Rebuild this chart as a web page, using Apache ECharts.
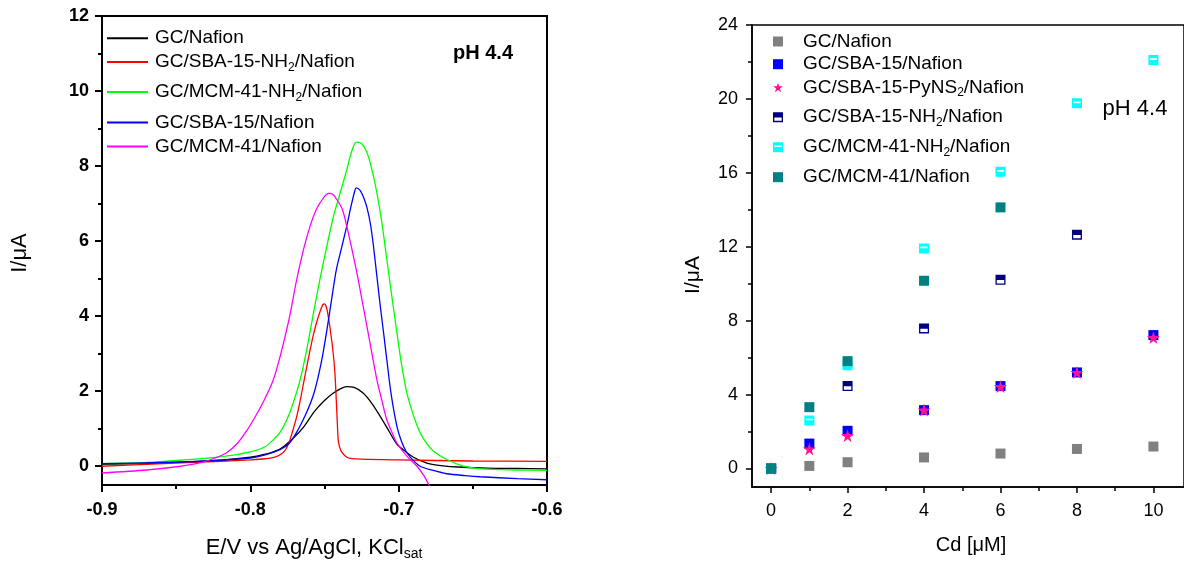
<!DOCTYPE html>
<html><head><meta charset="utf-8">
<script src="https://cdn.jsdelivr.net/npm/echarts/dist/echarts.min.js"></script>
<style>html,body{margin:0;padding:0;background:#fff}#c{width:1184px;height:572px}</style>
</head><body><div id="c"></div>
<script>
// ---------- DATA: left panel (DPV curves, E in V, I in uA) ----------
const curveGCNafion = [[-0.9,0.05],[-0.87,0.08],[-0.84,0.12],[-0.82,0.16],[-0.80,0.24],[-0.79,0.32],[-0.78,0.46],[-0.771,0.75],[-0.764,1.05],[-0.757,1.45],[-0.75,1.75],[-0.744,1.95],[-0.739,2.07],[-0.735,2.12],[-0.73,2.1],[-0.724,1.95],[-0.718,1.67],[-0.712,1.3],[-0.706,0.9],[-0.701,0.58],[-0.695,0.38],[-0.69,0.24],[-0.684,0.13],[-0.679,0.06],[-0.67,0.01],[-0.66,-0.02],[-0.64,-0.05],[-0.62,-0.06],[-0.6,-0.07]];
const curveSBA15NH2 = [[-0.9,0.0],[-0.87,0.05],[-0.847,0.09],[-0.82,0.13],[-0.80,0.17],[-0.79,0.2],[-0.783,0.25],[-0.778,0.36],[-0.7754,0.5],[-0.7732,0.71],[-0.771,1.0],[-0.7687,1.33],[-0.7664,1.75],[-0.7642,2.2],[-0.762,2.65],[-0.7597,3.1],[-0.7575,3.5],[-0.7552,3.85],[-0.753,4.12],[-0.7512,4.3],[-0.75,4.33],[-0.7488,4.25],[-0.7475,4.0],[-0.746,3.6],[-0.7445,3.15],[-0.743,2.5],[-0.7421,1.8],[-0.7413,1.1],[-0.7406,0.65],[-0.739,0.42],[-0.7372,0.32],[-0.7349,0.24],[-0.7327,0.21],[-0.725,0.19],[-0.70,0.17],[-0.65,0.14],[-0.6,0.13]];
const curveMCM41NH2 = [[-0.9,0.07],[-0.87,0.1],[-0.847,0.16],[-0.82,0.25],[-0.80,0.38],[-0.79,0.52],[-0.7844,0.71],[-0.78,0.9],[-0.7754,1.24],[-0.771,1.7],[-0.7664,2.31],[-0.762,3.1],[-0.7574,4.09],[-0.753,5.0],[-0.7484,5.87],[-0.744,6.65],[-0.7394,7.29],[-0.735,7.9],[-0.732,8.35],[-0.7286,8.64],[-0.725,8.6],[-0.7214,8.36],[-0.718,7.9],[-0.7147,7.29],[-0.711,6.4],[-0.708,5.51],[-0.7045,4.5],[-0.7012,3.56],[-0.698,2.7],[-0.6945,1.96],[-0.69,1.35],[-0.6855,0.89],[-0.681,0.6],[-0.6765,0.4],[-0.6675,0.18],[-0.6562,0.0],[-0.645,-0.07],[-0.62,-0.1],[-0.6,-0.11]];
const curveSBA15 = [[-0.9,0.07],[-0.86,0.1],[-0.83,0.14],[-0.80,0.22],[-0.79,0.3],[-0.78,0.44],[-0.774,0.6],[-0.769,0.89],[-0.763,1.35],[-0.757,1.96],[-0.752,2.8],[-0.748,3.73],[-0.745,4.5],[-0.742,5.24],[-0.738,5.9],[-0.735,6.4],[-0.732,6.95],[-0.7295,7.35],[-0.7286,7.42],[-0.726,7.35],[-0.7235,7.15],[-0.7214,6.9],[-0.719,6.45],[-0.717,5.87],[-0.7145,5.0],[-0.7124,4.27],[-0.710,3.5],[-0.708,2.84],[-0.705,1.9],[-0.7012,1.07],[-0.698,0.65],[-0.6945,0.36],[-0.69,0.15],[-0.6855,0.0],[-0.678,-0.1],[-0.6675,-0.2],[-0.655,-0.25],[-0.645,-0.28],[-0.62,-0.33],[-0.6,-0.36]];
const curveMCM41 = [[-0.9,-0.18],[-0.87,-0.1],[-0.847,0.0],[-0.835,0.08],[-0.825,0.2],[-0.816,0.36],[-0.8085,0.62],[-0.8024,0.95],[-0.797,1.3],[-0.7912,1.72],[-0.785,2.25],[-0.7799,2.93],[-0.774,3.9],[-0.7687,4.98],[-0.764,5.8],[-0.7597,6.4],[-0.756,6.8],[-0.753,7.02],[-0.7473,7.27],[-0.7445,7.25],[-0.7417,7.11],[-0.738,6.85],[-0.735,6.4],[-0.7316,5.8],[-0.7282,5.16],[-0.7248,4.45],[-0.7214,3.73],[-0.718,3.0],[-0.7147,2.31],[-0.711,1.7],[-0.708,1.24],[-0.7045,0.9],[-0.7012,0.62],[-0.6945,0.27],[-0.6877,0.0],[-0.683,-0.25],[-0.6794,-0.51],[-0.676,-0.7]];
const leftNames = ['GC/Nafion','GC/SBA-15-NH2/Nafion','GC/MCM-41-NH2/Nafion','GC/SBA-15/Nafion','GC/MCM-41/Nafion'];
const E_TICKS = [-0.9,-0.8,-0.7,-0.6];
const E_MINOR = [-0.85,-0.75,-0.65];
const IL_TICKS = [0,2,4,6,8,10,12];
const IL_MINOR = [1,3,5,7,9,11];

// ---------- DATA: right panel (calibration, Cd in uM, I in uA) ----------
const cdAll = [0,1,2,4,6,8,10];
const I_GC = [0,0.14,0.34,0.6,0.81,1.06,1.19];
const I_SBA15 = [0,1.35,2.04,3.16,4.46,5.2,7.22];
const I_PyNS2 = [0,1.06,1.78,3.16,4.44,5.2,7.09];
const cdSBA15NH2 = [0,2,4,6,8];
const I_SBA15NH2 = [0,4.46,7.58,10.21,12.65];
const I_MCM41NH2 = [0,2.6,5.59,11.91,16.06,19.76,22.1];
const cdMCM41 = [0,1,2,4,6];
const I_MCM41 = [0,3.32,5.81,10.16,14.13];
const rightNames = ['GC/Nafion','GC/SBA-15/Nafion','GC/SBA-15-PyNS2/Nafion','GC/SBA-15-NH2/Nafion','GC/MCM-41-NH2/Nafion','GC/MCM-41/Nafion'];
const CD_TICKS = [0,2,4,6,8,10];
const CD_MINOR = [1,3,5,7,9];
const IR_TICKS = [0,4,8,12,16,20,24];
const IR_MINOR = [2,6,10,14,18,22];

// ---------- styles ----------
const FONT = 'Arial, "Liberation Sans", Helvetica, sans-serif';
const RP = 'R:'; // internal prefix so right-panel series names stay unique
const leftColors = ['#000000','#ff0000','#00ff00','#0000ff','#ff00ff'];
const STAR = 'path://M50,0L61.2,34.5L97.6,34.5L68.2,55.9L79.4,90.5L50,69.1L20.6,90.5L31.8,55.9L2.4,34.5L38.8,34.5Z';
const HALF_NAVY = 'path://M0,0H10V10H0Z M1.3,5.2V8.6H8.7V5.2Z';
const HALF_CYAN = 'path://M0,0H10V10H0Z M1.5,3.2V4.9H8.5V3.2Z';
const rightStyles = [
  {symbol:'rect', color:'#808080', size:10},
  {symbol:'rect', color:'#0000ff', size:10},
  {symbol:STAR, color:'#ff1493', size:13},
  {symbol:HALF_NAVY, color:'#000080', size:10},
  {symbol:HALF_CYAN, color:'#00ffff', size:10},
  {symbol:'rect', color:'#008080', size:10}
];
const rightData = [
  cdAll.map((x,i)=>[x,I_GC[i]]),
  cdAll.map((x,i)=>[x,I_SBA15[i]]),
  cdAll.map((x,i)=>[x,I_PyNS2[i]]),
  cdSBA15NH2.map((x,i)=>[x,I_SBA15NH2[i]]),
  cdAll.map((x,i)=>[x,I_MCM41NH2[i]]),
  cdMCM41.map((x,i)=>[x,I_MCM41[i]])
];
const leftData = [curveGCNafion, curveSBA15NH2, curveMCM41NH2, curveSBA15, curveMCM41];

function richName(rawName){
  const name = rawName.indexOf(RP) === 0 ? rawName.slice(RP.length) : rawName;
  const m = name.match(/^(.*?(?:NH|PyNS))2(.*)$/);
  if (m) return '{f|' + m[1] + '}{s|2}{n|' + m[2] + '}';
  return '{f|' + name + '}';
}
function richStyles(fs, padLeft){
  return {
    f:{fontSize:fs, fontFamily:FONT, color:'#000', padding:[0,0,0,padLeft]},
    n:{fontSize:fs, fontFamily:FONT, color:'#000'},
    s:{fontSize:Math.round(fs*0.62), fontFamily:FONT, color:'#000', padding:[11,0,0,0]}
  };
}

const leftLegendY = [35.7, 59.5, 89.5, 120, 144];
const rightLegendY = [37, 59.7, 83, 112.7, 142.7, 172.7];
const legends = [];
leftNames.forEach((n,i)=>legends.push({
  data:[n], left:106, top:leftLegendY[i]-7, itemWidth:41, itemHeight:14, padding:0,
  selectedMode:false, formatter:richName,
  itemStyle:{opacity:0, borderWidth:0},
  textStyle:{color:'#000', fontSize:19, fontFamily:FONT, rich:richStyles(19,2)}
}));
rightNames.forEach((n,i)=>legends.push({
  data:[RP+n], left:773, top:rightLegendY[i]-5, itemWidth:10, itemHeight:10, padding:0,
  selectedMode:false, formatter:richName,
  textStyle:{color:'#000', fontSize:19, fontFamily:FONT, rich:richStyles(19,15)}
}));

function mainAxis(grid, min, max, ticks, pos, bold, fs, margin, lw, tlen, fmt){
  return {type:'value', gridIndex:grid, min:min, max:max, position:pos,
    axisLine:{show:true, onZero:false, lineStyle:{color:'#000', width:lw}},
    axisTick:{show:true, length:tlen, customValues:ticks, lineStyle:{color:'#000', width:lw}},
    axisLabel:{show:true, customValues:ticks, color:'#000', fontSize:fs, fontFamily:FONT,
      fontWeight:bold?'bold':'normal', margin:margin, formatter:fmt||(v=>String(v))},
    splitLine:{show:false}, minorTick:{show:false}};
}
function minorAxis(grid, min, max, ticks, pos, lw, tlen){
  return {type:'value', gridIndex:grid, min:min, max:max, position:pos,
    axisLine:{show:false, onZero:false}, axisLabel:{show:false},
    axisTick:{show:true, length:tlen, customValues:ticks, lineStyle:{color:'#000', width:lw}},
    splitLine:{show:false}};
}

const series = [];
leftNames.forEach((n,i)=>series.push({
  name:n, type:'line', xAxisIndex:0, yAxisIndex:0, data:leftData[i],
  symbol:'none', showSymbol:false, smooth:0.3, clip:true,
  lineStyle:{color:leftColors[i], width:1.3}, itemStyle:{color:leftColors[i]}
}));
rightNames.forEach((n,i)=>series.push({
  name:RP+n, type:'scatter', xAxisIndex:2, yAxisIndex:2, data:rightData[i],
  symbol:rightStyles[i].symbol, symbolSize:rightStyles[i].size,
  itemStyle:{color:rightStyles[i].color, opacity:1}
}));

const chart = echarts.init(document.getElementById('c'), null, {renderer:'canvas'});
chart.setOption({
  animation:false,
  backgroundColor:'#fff',
  grid:[
    {left:102, top:16, width:445, height:469, show:true, borderColor:'#000', borderWidth:2, backgroundColor:'rgba(0,0,0,0)', containLabel:false, outerBoundsMode:'none'},
    {left:752, top:25, width:432, height:462, show:true, borderColor:'#000', borderWidth:1.5, backgroundColor:'rgba(0,0,0,0)', containLabel:false, outerBoundsMode:'none'}
  ],
  xAxis:[
    mainAxis(0, -0.9, -0.6, E_TICKS, 'bottom', true, 18, 16, 2, 7, v=>v.toFixed(1)),
    minorAxis(0, -0.9, -0.6, E_MINOR, 'bottom', 2, 4),
    mainAxis(1, -0.5, 10.8, CD_TICKS, 'bottom', false, 18, 15, 1.5, 6),
    minorAxis(1, -0.5, 10.8, CD_MINOR, 'bottom', 1.5, 4)
  ],
  yAxis:[
    mainAxis(0, -0.5, 12, IL_TICKS, 'left', true, 18, 13, 2, 7),
    mainAxis(0, -0.5, 12, IL_MINOR, 'left', true, 18, 13, 2, 4, ()=>''),
    mainAxis(1, -1, 24, IR_TICKS, 'left', false, 18, 14, 1.5, 6),
    minorAxis(1, -1, 24, IR_MINOR, 'left', 1.5, 4)
  ],
  legend:legends,
  series:series,
  graphic:[
    {type:'text', x:20, y:253, rotation:Math.PI/2, style:{text:'I/μA', font:'22px '+FONT, fill:'#000', align:'center', verticalAlign:'middle'}},
    {type:'text', x:693, y:275, rotation:Math.PI/2, style:{text:'I/μA', font:'21px '+FONT, fill:'#000', align:'center', verticalAlign:'middle'}},
    {type:'text', x:314, y:548, style:{text:'{a|E/V vs Ag/AgCl, KCl}{b|sat}', fill:'#000', align:'center', verticalAlign:'middle',
      rich:{a:{fontSize:22, fontFamily:FONT, color:'#000'}, b:{fontSize:14, fontFamily:FONT, color:'#000', padding:[13,0,0,0]}}}},
    {type:'text', x:971, y:545, style:{text:'Cd [μM]', font:'20px '+FONT, fill:'#000', align:'center', verticalAlign:'middle'}},
    {type:'text', x:483, y:53, style:{text:'pH 4.4', font:'bold 20px '+FONT, fill:'#000', align:'center', verticalAlign:'middle'}},
    {type:'text', x:1135, y:109, style:{text:'pH 4.4', font:'22px '+FONT, fill:'#000', align:'center', verticalAlign:'middle'}}
  ]
});
</script>
</body></html>
